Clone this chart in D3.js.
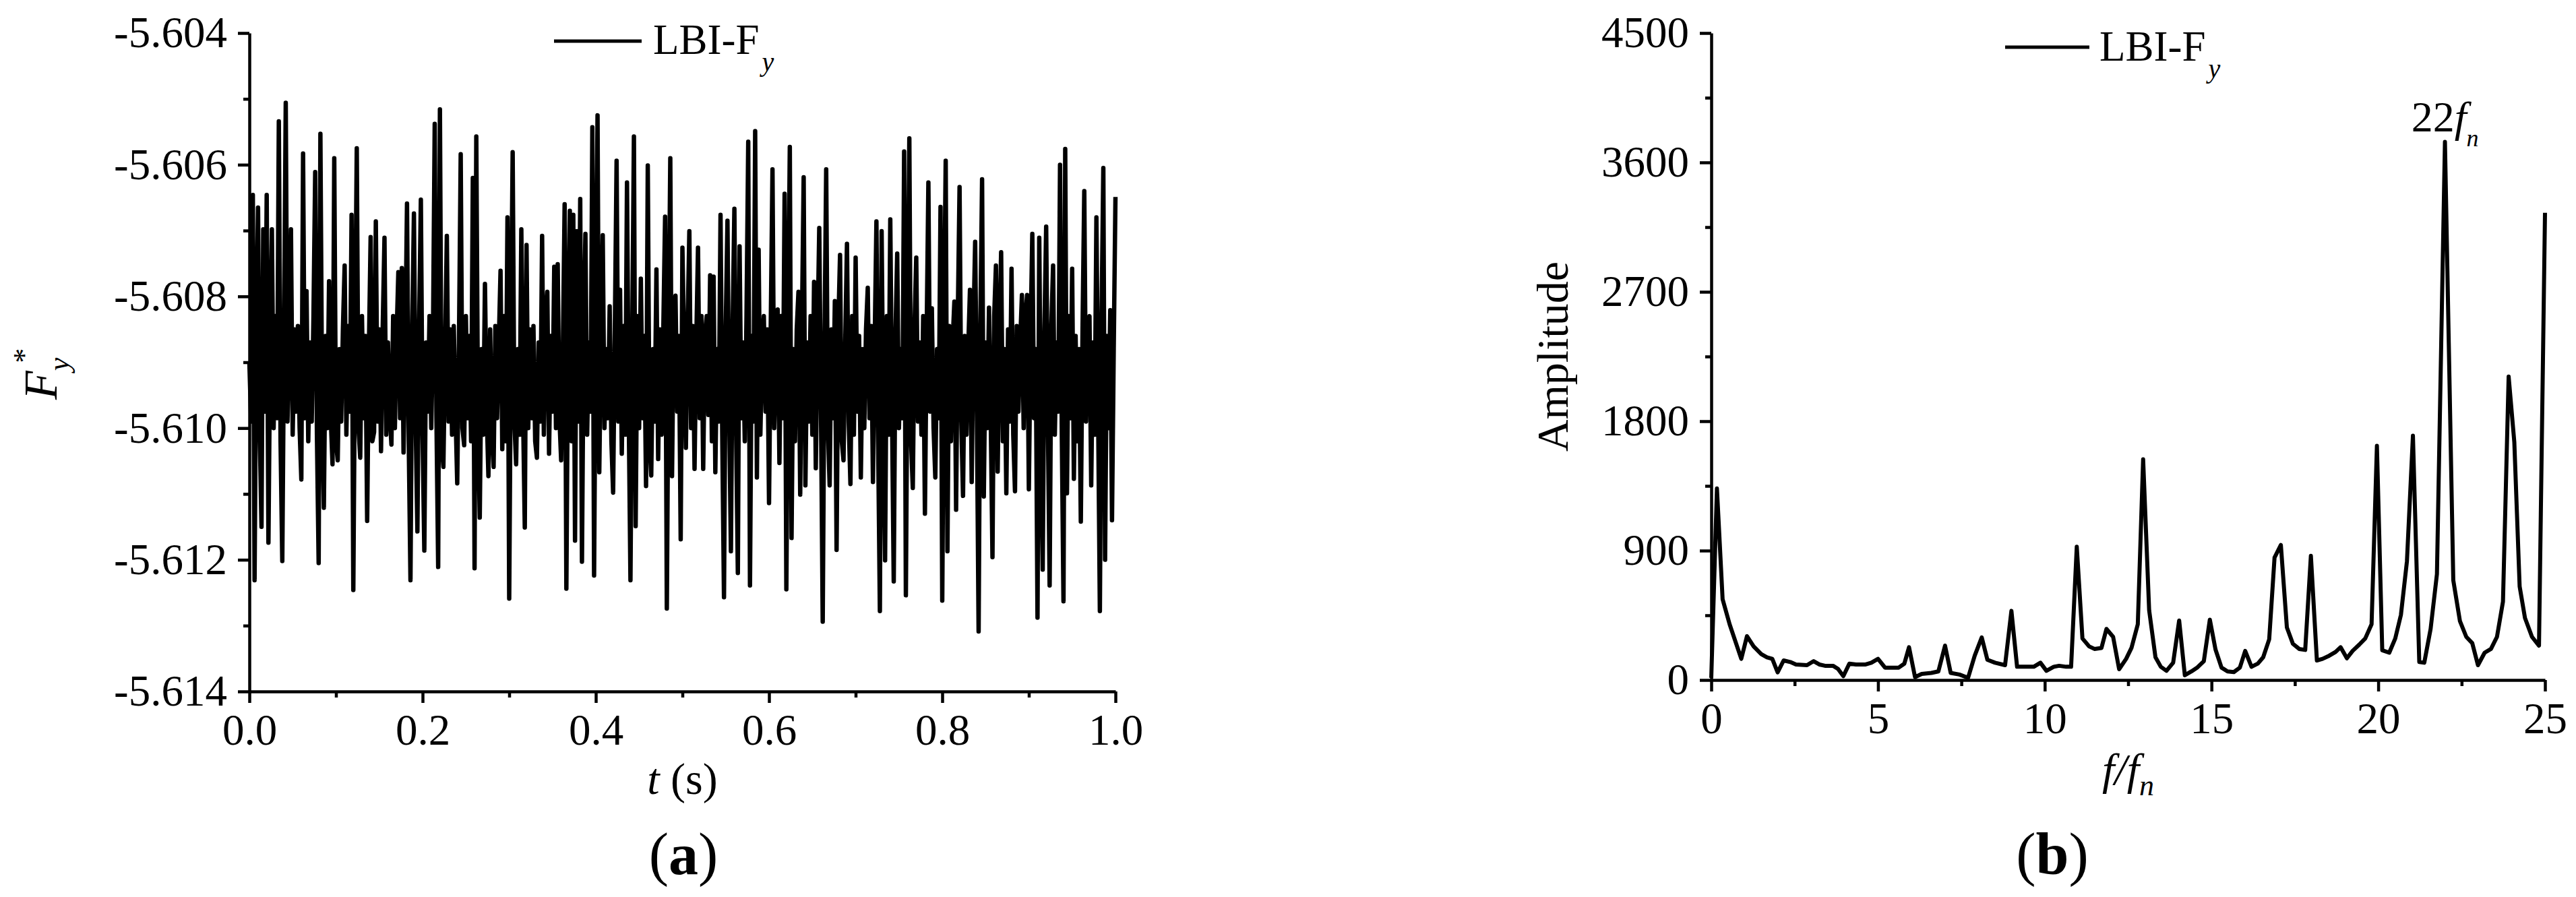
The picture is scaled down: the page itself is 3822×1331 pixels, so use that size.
<!DOCTYPE html>
<meta charset="utf-8">
<style>

body {
  margin: 0;
  background: #fff;
}

svg {
  display: block;
  font-family: "Liberation Serif", "Times New Roman", serif;
}

.axis {
  font-family: "Liberation Serif", "Times New Roman", serif;
  font-size: 65px;
}

.axis path,
.axis line {
  stroke: #000;
  stroke-width: 4.5px;
}

.trace {
  fill: none;
  stroke: #000;
  stroke-width: 6.5px;
  stroke-linejoin: round;
}

.spectrum {
  fill: none;
  stroke: #000;
  stroke-width: 6px;
  stroke-linejoin: round;
}

</style>
<svg width="3822" height="1331"></svg>
<script src="https://d3js.org/d3.v7.min.js"></script>
<script>

var fySampleStep = 0.002;
var fyValues = [
  -5.60900,-5.60990,-5.60646,-5.61231,-5.60845,-5.60665,-5.61010,-5.61150,-5.60698,-5.60975,
  -5.60646,-5.61174,-5.60870,-5.60698,-5.61000,-5.60830,-5.60985,-5.60534,-5.61020,-5.61202,
  -5.60860,-5.60506,-5.60990,-5.60880,-5.60698,-5.61010,-5.60850,-5.60975,-5.60845,-5.61000,
  -5.61078,-5.60583,-5.60985,-5.60792,-5.61020,-5.60870,-5.60990,-5.60830,-5.60611,-5.61010,
  -5.61205,-5.60553,-5.60975,-5.61121,-5.60860,-5.61000,-5.60777,-5.60985,-5.61055,-5.60590,
  -5.61020,-5.61049,-5.60880,-5.60990,-5.60850,-5.60753,-5.61010,-5.60845,-5.60975,-5.60676,
  -5.61246,-5.60870,-5.60575,-5.61000,-5.61045,-5.60830,-5.60985,-5.60860,-5.61141,-5.60880,
  -5.60710,-5.61020,-5.61006,-5.60686,-5.60990,-5.60850,-5.61035,-5.60845,-5.60711,-5.61010,
  -5.60870,-5.60975,-5.61025,-5.60830,-5.61000,-5.60860,-5.60763,-5.60985,-5.60757,-5.61037,
  -5.60880,-5.60659,-5.61020,-5.61231,-5.60850,-5.60674,-5.60990,-5.61157,-5.60845,-5.60653,
  -5.61010,-5.61186,-5.60870,-5.60975,-5.60830,-5.61000,-5.60860,-5.60538,-5.60985,-5.61211,
  -5.60516,-5.61020,-5.61059,-5.60880,-5.60708,-5.60990,-5.60850,-5.61010,-5.60845,-5.60975,
  -5.61084,-5.60870,-5.60584,-5.61000,-5.61026,-5.60830,-5.60985,-5.60860,-5.61020,-5.60620,
  -5.61213,-5.60557,-5.60990,-5.61136,-5.60880,-5.61010,-5.60781,-5.60975,-5.61073,-5.60850,
  -5.61000,-5.61059,-5.60845,-5.60985,-5.60870,-5.60761,-5.61032,-5.60830,-5.61020,-5.60680,
  -5.61259,-5.60860,-5.60581,-5.60990,-5.61055,-5.60880,-5.61010,-5.60698,-5.60975,-5.61151,
  -5.60722,-5.61000,-5.60850,-5.60985,-5.60845,-5.61020,-5.61045,-5.60870,-5.60990,-5.60708,
  -5.61010,-5.60830,-5.60793,-5.61039,-5.60860,-5.60975,-5.60755,-5.61000,-5.60751,-5.60985,
  -5.61049,-5.60880,-5.60660,-5.61244,-5.60850,-5.60670,-5.61020,-5.60676,-5.61171,-5.60701,
  -5.60990,-5.60652,-5.61203,-5.60845,-5.60705,-5.61010,-5.60870,-5.60975,-5.60543,-5.61224,
  -5.60830,-5.60525,-5.61067,-5.60860,-5.60707,-5.61000,-5.60880,-5.60985,-5.60815,-5.61020,
  -5.61098,-5.60850,-5.60594,-5.60990,-5.60790,-5.61039,-5.60845,-5.61010,-5.60627,-5.60975,
  -5.61231,-5.60870,-5.60557,-5.61149,-5.60830,-5.61000,-5.60773,-5.60985,-5.60860,-5.61088,
  -5.60601,-5.61020,-5.61072,-5.60880,-5.60990,-5.60759,-5.61047,-5.60850,-5.61010,-5.60845,
  -5.60679,-5.61274,-5.60870,-5.60590,-5.61073,-5.60830,-5.60799,-5.60975,-5.60860,-5.61169,
  -5.60726,-5.60880,-5.61030,-5.60850,-5.60701,-5.61000,-5.60845,-5.61062,-5.60870,-5.60726,
  -5.60985,-5.60830,-5.61062,-5.60860,-5.60830,-5.60980,-5.60768,-5.61020,-5.60770,-5.61067,
  -5.60880,-5.60990,-5.60676,-5.61010,-5.61257,-5.60850,-5.60685,-5.60975,-5.61187,-5.60845,
  -5.60667,-5.61000,-5.61220,-5.60724,-5.60985,-5.60870,-5.61020,-5.60830,-5.60565,-5.61239,
  -5.60860,-5.60990,-5.60549,-5.61075,-5.60729,-5.61010,-5.60880,-5.60830,-5.60975,-5.60850,
  -5.61114,-5.60845,-5.60607,-5.61000,-5.60870,-5.60820,-5.61053,-5.60830,-5.60985,-5.60644,
  -5.61245,-5.60860,-5.60573,-5.61167,-5.60880,-5.61020,-5.60850,-5.60793,-5.61101,-5.60845,
  -5.60619,-5.61087,-5.60870,-5.60990,-5.60830,-5.61010,-5.60778,-5.61061,-5.60860,-5.60696,
  -5.60975,-5.61294,-5.60880,-5.60607,-5.61000,-5.61087,-5.60850,-5.60985,-5.60807,-5.61185,
  -5.60845,-5.60737,-5.61020,-5.61049,-5.60870,-5.60720,-5.60990,-5.61085,-5.60830,-5.61010,
  -5.60741,-5.60975,-5.60860,-5.61075,-5.60880,-5.61000,-5.60850,-5.60787,-5.60985,-5.60845,
  -5.61082,-5.60870,-5.60686,-5.61020,-5.61278,-5.60701,-5.60990,-5.61201,-5.60830,-5.61010,
  -5.60683,-5.60975,-5.61233,-5.60860,-5.60735,-5.61000,-5.60880,-5.60985,-5.60580,-5.61254,
  -5.60850,-5.60560,-5.61020,-5.61091,-5.60845,-5.60741,-5.60990,-5.60870,-5.61010,-5.60830,
  -5.61130,-5.60860,-5.60627,-5.60975,-5.60818,-5.61000,-5.61075,-5.60880,-5.60985,-5.60664,
  -5.61262,-5.60850,-5.60594,-5.61187,-5.60845,-5.61020,-5.60870,-5.60808,-5.61124,-5.60830,
  -5.60634,-5.60990,-5.61103,-5.60860,-5.61010,-5.60880,-5.60790,-5.61082,-5.60850,-5.60717,
  -5.60975,-5.61309,-5.60845,-5.60622,-5.61104,-5.60870,-5.61000,-5.60817,-5.60985,-5.61196,
  -5.60830,-5.60753,-5.61066,-5.60860,-5.60733,-5.61020,-5.60880,-5.61099,-5.60850,-5.60990,
  -5.60758,-5.61010,-5.61096,-5.60845,-5.60975,-5.60870,-5.60798,-5.61000,-5.60830,-5.60798,
  -5.61093,-5.60860,-5.60705,-5.60985,-5.60880,-5.61288,-5.60711,-5.61020,-5.61215,-5.60850,
  -5.60694,-5.60990,-5.61239,-5.60845,-5.60753,-5.61010,-5.60870,-5.60975,-5.60600,-5.61000,
  -5.61263,-5.60576,-5.61099,-5.60830,-5.60985,-5.60758,-5.61077,-5.60860,-5.61020,-5.60880,
  -5.61142,-5.60850,-5.60640,-5.60990,-5.60845,-5.60830,-5.61087,-5.60870,-5.61010,-5.60680,
  -5.60975,-5.61278,-5.60830,-5.60605,-5.61200,-5.60860,-5.61000,-5.60821,-5.61140,-5.60880,
  -5.60649
];

// ---- (b) amplitude spectrum: [f/fn, amplitude]
var fftSpectrum = [
  [0.00,15],[0.17,1332],[0.34,562],[0.55,388],[0.90,147],[1.07,305],[1.27,234],[1.50,180],[1.67,158],[1.83,147],
  [1.99,53],[2.17,136],[2.37,125],[2.54,108],[2.87,103],[3.07,131],[3.24,108],[3.41,99],[3.65,99],[3.80,77],
  [3.96,27],[4.14,114],[4.34,108],[4.63,108],[4.80,120],[5.00,147],[5.21,86],[5.62,86],[5.79,114],[5.93,228],
  [6.11,20],[6.31,42],[6.60,49],[6.81,60],[7.01,239],[7.18,49],[7.44,38],[7.70,15],[7.90,169],[8.11,296],
  [8.28,141],[8.51,120],[8.81,103],[9.00,481],[9.17,92],[9.38,92],[9.67,92],[9.87,120],[10.05,64],[10.27,92],
  [10.43,99],[10.64,92],[10.79,92],[10.96,927],[11.13,289],[11.33,234],[11.49,216],[11.70,223],[11.85,355],[12.05,300],
  [12.23,75],[12.44,147],[12.60,223],[12.79,388],[12.95,1535],[13.13,486],[13.32,158],[13.48,92],[13.65,64],[13.85,120],
  [14.03,414],[14.20,33],[14.40,60],[14.58,88],[14.77,131],[14.95,420],[15.12,212],[15.30,86],[15.48,60],[15.67,55],
  [15.85,86],[16.01,202],[16.20,92],[16.39,114],[16.55,158],[16.73,283],[16.89,851],[17.08,939],[17.26,366],[17.44,252],
  [17.63,216],[17.81,209],[17.98,864],[18.16,136],[18.33,147],[18.53,169],[18.72,195],[18.87,228],[19.06,151],[19.23,202],
  [19.43,246],[19.61,289],[19.80,388],[19.96,1629],[20.12,207],[20.33,190],[20.51,289],[20.68,453],[20.86,825],[21.04,1699],
  [21.23,125],[21.38,120],[21.57,355],[21.76,737],[22.00,3743],[22.25,694],[22.45,409],[22.64,300],[22.82,256],[22.99,103],
  [23.19,190],[23.38,216],[23.56,300],[23.74,545],[23.91,2111],[24.08,1655],[24.24,650],[24.40,431],[24.61,300],[24.82,239],
  [25.00,3250]
];

// tick values
var timeMajor = [0, 0.2, 0.4, 0.6, 0.8, 1.0];
var timeMinor = [0.1, 0.3, 0.5, 0.7, 0.9];
var fyMajor = [-5.614, -5.612, -5.610, -5.608, -5.606, -5.604];
var fyMinor = [-5.613, -5.611, -5.609, -5.607, -5.605];
var freqMajor = [0, 5, 10, 15, 20, 25];
var freqMinor = [2.5, 7.5, 12.5, 17.5, 22.5];
var ampMajor = [0, 900, 1800, 2700, 3600, 4500];
var ampMinor = [450, 1350, 2250, 3150, 4050];

var peakLabel = {f: 22, text: "22"};
var seriesName = "LBI-F";

var svg = d3.select("svg");

// scales
var xa = d3.scaleLinear().domain([0, 1]).range([370, 1655]);
var ya = d3.scaleLinear().domain([-5.614, -5.604]).range([1026, 49]);
var xb = d3.scaleLinear().domain([0, 25]).range([2539, 3776]);
var yb = d3.scaleLinear().domain([0, 4500]).range([1009, 49]);

function drawAxes(x, y, xMaj, xMin, yMaj, yMin, xFmt, yFmt) {
  var y0 = y.range()[0], x0 = x.range()[0];

  svg.append("g").attr("class", "axis")
      .attr("transform", "translate(0," + y0 + ")")
      .call(d3.axisBottom(x).tickValues(xMin).tickSize(9).tickSizeOuter(0).tickFormat(""))
      .call(function(g) { g.select(".domain").remove(); });
  svg.append("g").attr("class", "axis")
      .attr("transform", "translate(0," + y0 + ")")
      .call(d3.axisBottom(x).tickValues(xMaj).tickSize(17).tickSizeOuter(0)
            .tickPadding(16).tickFormat(xFmt));

  svg.append("g").attr("class", "axis")
      .attr("transform", "translate(" + x0 + ",0)")
      .call(d3.axisLeft(y).tickValues(yMin).tickSize(9).tickSizeOuter(0).tickFormat(""))
      .call(function(g) { g.select(".domain").remove(); });
  svg.append("g").attr("class", "axis")
      .attr("transform", "translate(" + x0 + ",0)")
      .call(d3.axisLeft(y).tickValues(yMaj).tickSize(17).tickSizeOuter(0)
            .tickPadding(16).tickFormat(yFmt));
}

function legend(x1, x2, ly, tx, ty) {
  svg.append("line")
      .attr("x1", x1).attr("x2", x2)
      .attr("y1", ly).attr("y2", ly)
      .attr("stroke", "#000").attr("stroke-width", 5);
  var t = svg.append("text")
      .attr("x", tx).attr("y", ty)
      .style("font-size", "63px");
  t.append("tspan").text(seriesName);
  t.append("tspan").attr("dy", 25).attr("dx", 4)
      .style("font-style", "italic").style("font-size", "40px").text("y");
}

// ---------- panel (a)
var fyTrace = fyValues.map(function(v, i) { return [i * fySampleStep, v]; });

svg.append("path")
    .datum(fyTrace)
    .attr("class", "trace")
    .attr("d", d3.line().x(function(d) { return xa(d[0]); }).y(function(d) { return ya(d[1]); }));

drawAxes(xa, ya, timeMajor, timeMinor, fyMajor, fyMinor,
    function(d) { return d.toFixed(1); },
    function(d) { return d.toFixed(3); });

legend(822, 952, 61, 969, 80);

var ta = svg.append("text")
    .attr("transform", "translate(84,593) rotate(-90)")
    .style("font-size", "70px");
ta.append("tspan").style("font-style", "italic").text("F");
ta.append("tspan").attr("dy", 18).style("font-style", "italic").style("font-size", "44px").text("y");
ta.append("tspan").attr("dx", -8).attr("dy", -52).style("font-size", "44px").text("*");

var tx = svg.append("text")
    .attr("x", (xa.range()[0] + xa.range()[1]) / 2).attr("y", 1178)
    .attr("text-anchor", "middle")
    .style("font-size", "66px");
tx.append("tspan").style("font-style", "italic").text("t");
tx.append("tspan").text(" (s)");

var la = svg.append("text")
    .attr("x", 1014).attr("y", 1297)
    .attr("text-anchor", "middle")
    .style("font-size", "88px");
la.append("tspan").text("(");
la.append("tspan").style("font-weight", "bold").text("a");
la.append("tspan").text(")");

// ---------- panel (b)
svg.append("path")
    .datum(fftSpectrum)
    .attr("class", "spectrum")
    .attr("d", d3.line().x(function(d) { return xb(d[0]); }).y(function(d) { return yb(d[1]); }));

drawAxes(xb, yb, freqMajor, freqMinor, ampMajor, ampMinor,
    function(d) { return d; },
    function(d) { return d; });

legend(2975, 3100, 70, 3115, 90);

svg.append("text")
    .attr("transform", "translate(2326," + (yb.range()[0] + yb.range()[1]) / 2 + ") rotate(-90)")
    .attr("text-anchor", "middle")
    .style("font-size", "66px")
    .text("Amplitude");

var fx = svg.append("text")
    .attr("x", (xb.range()[0] + xb.range()[1]) / 2).attr("y", 1164)
    .attr("text-anchor", "middle")
    .style("font-size", "66px");
fx.append("tspan").style("font-style", "italic").text("f/f");
fx.append("tspan").attr("dy", 16).style("font-style", "italic").style("font-size", "44px").text("n");

// peak annotation 22fn
var peak = fftSpectrum.filter(function(d) { return d[0] === peakLabel.f; })[0];
var pk = svg.append("text")
    .attr("x", xb(peak[0])).attr("y", yb(peak[1]) - 15)
    .attr("text-anchor", "middle")
    .style("font-size", "64px");
pk.append("tspan").text(peakLabel.text);
pk.append("tspan").style("font-style", "italic").text("f");
pk.append("tspan").attr("dy", 22).style("font-style", "italic").style("font-size", "36px").text("n");

var lb = svg.append("text")
    .attr("x", 3045).attr("y", 1297)
    .attr("text-anchor", "middle")
    .style("font-size", "88px");
lb.append("tspan").text("(");
lb.append("tspan").style("font-weight", "bold").text("b");
lb.append("tspan").text(")");

</script>
